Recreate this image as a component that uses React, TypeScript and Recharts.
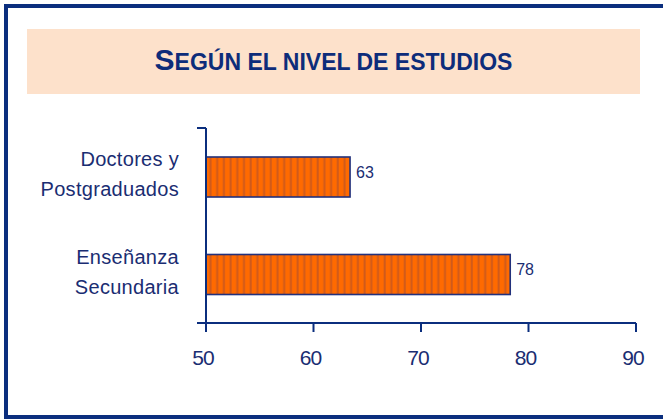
import React from "react";
import { BarChart, Bar, XAxis, YAxis, LabelList } from "recharts";

// Según el nivel de estudios
const categories = ["Doctores y Postgraduados", "Enseñanza Secundaria"];
const values = [63.4, 78.3];
const xTicks = [50, 60, 70, 80, 90];
const boundTicks = [0, 1, 2];

const data = categories.map((name, i) => ({ name, value: values[i] }));

const NAVY = "#0b2e7e";
const TEXT = "#1a2d72";
const ORANGE = "#ff6a00";
const STRIPE = "#cf5a1c";

const splitLabel = (s: string) => {
  const i = s.lastIndexOf(" ");
  return [s.slice(0, i), s.slice(i + 1)];
};

const StripedBar = (props: any) => {
  const { x, y, width, height, index } = props;
  const id = `stripes-${index}`;
  return (
    <g>
      <defs>
        <pattern id={id} x={x} y={0} width={6.7} height={4} patternUnits="userSpaceOnUse">
          <rect width={6.7} height={4} fill={ORANGE} />
          <rect x={3.5} width={2} height={4} fill={STRIPE} />
        </pattern>
      </defs>
      <rect x={x} y={y} width={width} height={height} fill={`url(#${id})`} stroke="#22317c" strokeWidth={1.6} />
    </g>
  );
};

const CategoryLabel = (props: any) => {
  const { x, y, height, value } = props;
  const [a, b] = splitLabel(String(value));
  const cy = y + height / 2;
  return (
    <g>
      <text x={x - 27} y={cy - 18} textAnchor="end" dominantBaseline="central" fill={TEXT} fontSize={20} letterSpacing={0.3}>
        {a}
      </text>
      <text x={x - 27} y={cy + 12} textAnchor="end" dominantBaseline="central" fill={TEXT} fontSize={20} letterSpacing={0.3}>
        {b}
      </text>
    </g>
  );
};

const ValueLabel = (props: any) => {
  const { x, y, width, height, value } = props;
  return (
    <text x={x + width + 6} y={y + height / 2 - 5} dominantBaseline="central" fill={TEXT} fontSize={16}>
      {Math.round(value)}
    </text>
  );
};

const XTick = (props: any) => {
  const { x, y, payload } = props;
  return (
    <text x={x - 3} y={y + 23} textAnchor="middle" dominantBaseline="central" fill={TEXT} fontSize={21} letterSpacing={-1}>
      {payload.value}
    </text>
  );
};

// bounds axis only shows tick marks, no text
const EmptyTick = () => <g />;

export default function App() {
  return (
    <div style={wrapStyle}>
      <style>{`body{margin:0}`}</style>
      <div style={frameStyle} />
      <div style={titleBoxStyle}>
        <span style={{ fontSize: 30 }}>S</span>
        <span style={{ fontSize: 23 }}>EGÚN EL NIVEL DE ESTUDIOS</span>
      </div>
      <BarChart
        width={663}
        height={419}
        data={data}
        layout="vertical"
        margin={{ top: 128, right: 27, bottom: 36, left: 196 }}
        style={{ position: "absolute", left: 0, top: 0 }}
      >
        <XAxis
          type="number"
          domain={[50, 90]}
          ticks={xTicks}
          allowDataOverflow
          height={60}
          tick={<XTick />}
          tickSize={9}
          axisLine={{ stroke: NAVY, strokeWidth: 2 }}
          tickLine={{ stroke: NAVY, strokeWidth: 2 }}
        />
        <YAxis yAxisId="cat" type="category" dataKey="name" hide />
        <YAxis
          yAxisId="bounds"
          type="number"
          domain={[0, 2]}
          ticks={boundTicks}
          width={10}
          tick={<EmptyTick />}
          tickSize={9}
          axisLine={{ stroke: NAVY, strokeWidth: 2 }}
          tickLine={{ stroke: NAVY, strokeWidth: 2 }}
        />
        <Bar yAxisId="cat" dataKey="value" barSize={40} shape={<StripedBar />} isAnimationActive={false}>
          <LabelList dataKey="name" content={<CategoryLabel />} />
          <LabelList dataKey="value" content={<ValueLabel />} />
        </Bar>
      </BarChart>
    </div>
  );
}

const wrapStyle: React.CSSProperties = {
  position: "relative",
  width: 663,
  height: 419,
  background: "#ffffff",
  overflow: "hidden",
  fontFamily: "'Liberation Sans', Arial, sans-serif",
};

const frameStyle: React.CSSProperties = {
  position: "absolute",
  left: 4,
  top: 4,
  right: 0,
  bottom: 0,
  borderTop: `4px solid ${NAVY}`,
  borderLeft: `4px solid ${NAVY}`,
  borderBottom: `4px solid ${NAVY}`,
  boxSizing: "border-box",
};

const titleBoxStyle: React.CSSProperties = {
  position: "absolute",
  left: 27,
  top: 29,
  width: 613,
  height: 65,
  background: "#fde1cb",
  color: "#0d2c7a",
  fontWeight: "bold",
  textAlign: "center",
  lineHeight: "62px",
};
